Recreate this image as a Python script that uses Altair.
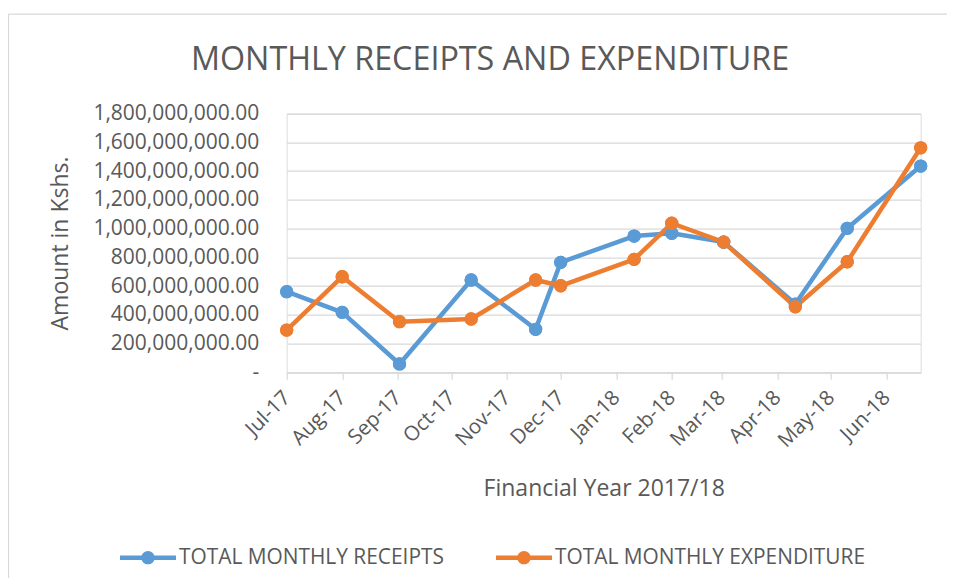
import altair as alt
import pandas as pd

# ---- data ----
dates = ["2017-07-01", "2017-08-01", "2017-09-02", "2017-10-12", "2017-11-17", "2017-12-01",
         "2018-01-11", "2018-02-01", "2018-03-02", "2018-04-11", "2018-05-10", "2018-06-20"]
receipts = [561e6, 417e6, 58e6, 642e6, 299e6, 765e6,
            948e6, 967e6, 906e6, 475e6, 1002e6, 1435e6]
expenditure = [294e6, 665e6, 352e6, 371e6, 642e6, 602e6,
               786e6, 1037e6, 906e6, 456e6, 769e6, 1562e6]
series = ["TOTAL MONTHLY RECEIPTS", "TOTAL MONTHLY EXPENDITURE"]
colors = ["#5B9BD5", "#ED7D31"]
tick_months = [(2017, 7), (2017, 8), (2017, 9), (2017, 10), (2017, 11), (2017, 12),
               (2018, 1), (2018, 2), (2018, 3), (2018, 4), (2018, 5), (2018, 6)]
y_ticks = [0, 200e6, 400e6, 600e6, 800e6, 1000e6, 1200e6, 1400e6, 1600e6, 1800e6]

rows = []
for name, vals in zip(series, [receipts, expenditure]):
    for d, v in zip(dates, vals):
        rows.append({"date": d + "T00:00:00", "series": name, "value": v})
df = pd.DataFrame(rows)

FONT = "Open Sans"
TXT = "#595959"
GRID = "#D9D9D9"

x_enc = alt.X(
    "date:T",
    scale=alt.Scale(domain=[alt.DateTime(year=2017, month=7, date=1),
                            alt.DateTime(year=2018, month=6, date=20)]),
    axis=alt.Axis(
        values=[alt.DateTime(year=y, month=m, date=1) for y, m in tick_months],
        format="%b-%y", labelAngle=315, labelAlign="right", labelBaseline="middle",
        labelFontSize=20.5, labelColor=TXT, labelFont=FONT, labelPadding=15,
        labelOverlap=False, labelBound=False, labelFlush=False,
        tickSize=7, tickColor=GRID, tickWidth=1.25,
        domainColor=GRID, domainWidth=1.25, grid=False,
        title="Financial Year 2017/18", titleFontSize=23, titleColor=TXT,
        titleFont=FONT, titleFontWeight="normal", titlePadding=26,
    ),
)
y_enc = alt.Y(
    "value:Q",
    scale=alt.Scale(domain=[0, 1.8e9], nice=False, zero=True),
    axis=alt.Axis(
        values=y_ticks,
        labelExpr="datum.value == 0 ? '-\u00a0\u00a0' : format(datum.value, ',.2f')",
        labelFontSize=21, labelColor=TXT, labelFont=FONT, labelPadding=28,
        domain=False, ticks=False, tickSize=0,
        grid=True, gridColor=GRID, gridWidth=1.25,
        title="Amount in Kshs.", titleFontSize=23, titleColor=TXT,
        titleFont=FONT, titleFontWeight="normal", titlePadding=20,
    ),
)
color_scale = alt.Scale(domain=series, range=colors)

legend_path = ("M-1,-0.08L1,-0.08L1,0.08L-1,0.08Z "
               "M0.24,0A0.24,0.24,0,1,1,-0.24,0A0.24,0.24,0,1,1,0.24,0Z")

base = alt.Chart(df)
# first point layer carries the legend (drawn underneath, same positions)
legend_points = base.mark_point(filled=True, size=177, opacity=1).encode(
    x=x_enc, y=y_enc,
    color=alt.Color(
        "series:N", scale=color_scale,
        legend=alt.Legend(
            title=None, orient="none", direction="horizontal",
            legendX=-166.7, legendY=416,
            symbolType=legend_path, symbolSize=3136, symbolStrokeWidth=0,
            symbolOpacity=1, labelLimit=0,
            labelFont=FONT, labelFontSize=20.9, labelColor=TXT, labelOffset=3,
            columnPadding=51, padding=0,
        ),
    ),
)
lines = base.mark_line(strokeWidth=4.5, strokeJoin="round", strokeCap="round").encode(
    x=x_enc, y=y_enc,
    color=alt.Color("series:N", scale=color_scale, legend=None),
)
points = base.mark_point(filled=True, size=177, opacity=1).encode(
    x=x_enc, y=y_enc,
    color=alt.Color("series:N", scale=color_scale, legend=None),
)

one = pd.DataFrame({"k": [0]})
border_top = alt.Chart(one).mark_rule(color=GRID, strokeWidth=1.25).encode(
    x=alt.value(-278.2), x2=alt.value(700), y=alt.value(-99.6))
border_left = alt.Chart(one).mark_rule(color=GRID, strokeWidth=1.25).encode(
    x=alt.value(-278.2), y=alt.value(-99.6), y2=alt.value(480))

chart = alt.layer(border_top, border_left, legend_points, lines, points).properties(
    width=634, height=258.7,
    autosize=alt.AutoSizeParams(type="none"),
    padding={"left": 278.7, "top": 105.6, "right": 26, "bottom": 206},
    title=alt.TitleParams(
        "MONTHLY RECEIPTS AND EXPENDITURE", fontSize=32.3, font=FONT,
        fontWeight="normal", color=TXT, anchor="middle", dx=-113.7,
        offset=0, baseline="alphabetic", dy=88.6,
    ),
).configure_view(stroke=None).configure(background="white")

chart.save("out.html", embed_options={"renderer": "svg", "actions": False})
